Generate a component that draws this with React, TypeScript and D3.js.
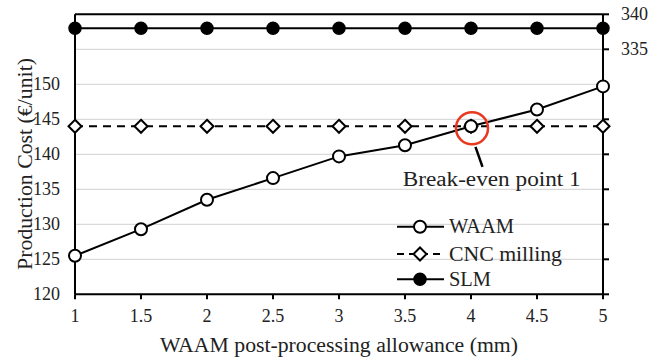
import React from "react";
import * as d3 from "d3";

const allowance = [1, 1.5, 2, 2.5, 3, 3.5, 4, 4.5, 5];
const waamCost = [125.5, 129.3, 133.5, 136.6, 139.7, 141.3, 144.0, 146.4, 149.7];
const cncCost = [144, 144, 144, 144, 144, 144, 144, 144, 144];
const slmCost = [338, 338, 338, 338, 338, 338, 338, 338, 338];
const xTicks = [1, 1.5, 2, 2.5, 3, 3.5, 4, 4.5, 5];
const yTicksLeft = [120, 125, 130, 135, 140, 145, 150];
const yGrid = [125, 130, 135, 140, 145, 150, 155];
const yTickMarks = [120, 125, 130, 135, 140, 145, 150, 155, 160];
const yTicksRight = [335, 340];
const breakEvenX = 4;
const breakEvenY = 144;

const FONT = "Liberation Serif, DejaVu Serif, serif";

export default function App() {
  const W = 666, H = 359;
  const L = 75, R = 603, T = 14.3, B = 294.3;
  const x = d3.scaleLinear().domain([1, 5]).range([L, R]);
  const y = d3.scaleLinear().domain([120, 160]).range([B, T]);
  // broken upper axis segment for SLM (right axis)
  const yR = d3.scaleLinear().domain([335, 340]).range([y(155), y(160)]);

  const lineL = d3.line<[number, number]>().x(d => x(d[0])).y(d => y(d[1]));
  const lineR = d3.line<[number, number]>().x(d => x(d[0])).y(d => yR(d[1]));
  const waamPts: [number, number][] = allowance.map((a, i) => [a, waamCost[i]]);
  const cncPts: [number, number][] = allowance.map((a, i) => [a, cncCost[i]]);
  const slmPts: [number, number][] = allowance.map((a, i) => [a, slmCost[i]]);

  const diamond = (cx: number, cy: number, s: number) =>
    `M${cx},${cy - s}L${cx + s},${cy}L${cx},${cy + s}L${cx - s},${cy}Z`;

  const legX0 = 397, legX1 = 444, legXm = 420, legText = 449;
  const legY = [226.7, 254, 279.3];
  const bx = x(breakEvenX) + 1, by = y(breakEvenY) + 2;
  const ts = { fontFamily: FONT };

  return (
    <svg width={W} height={H} style={{ position: "absolute", left: 0, top: 0, background: "#fff", fontFamily: FONT }}>
      <rect x={0} y={0} width={W} height={H} fill="#fff" />
      {/* grid */}
      {yGrid.map(v => (
        <line key={"g" + v} x1={L} x2={R} y1={y(v)} y2={y(v)} stroke="#d9d9d9" strokeWidth={1.2} />
      ))}
      {/* frame */}
      <line x1={L} x2={R} y1={T} y2={T} stroke="#000" strokeWidth={2} />
      <line x1={L} x2={R} y1={B} y2={B} stroke="#000" strokeWidth={2} />
      <line x1={L} x2={L} y1={T} y2={B} stroke="#000" strokeWidth={2} />
      <line x1={R} x2={R} y1={T} y2={B} stroke="#000" strokeWidth={2} />
      {/* right ticks */}
      {yTickMarks.map(v => (
        <line key={"rt" + v} x1={R} x2={R + 6} y1={y(v)} y2={y(v)} stroke="#000" strokeWidth={2} />
      ))}
      {/* x ticks */}
      {xTicks.map(v => (
        <g key={"xt" + v}>
          <line x1={x(v)} x2={x(v)} y1={B} y2={B + 5} stroke="#000" strokeWidth={2} />
          <text style={ts} x={x(v)} y={322} fontSize={18} textAnchor="middle" fill="#222">{v}</text>
        </g>
      ))}
      {/* left tick labels */}
      {yTicksLeft.map(v => (
        <text style={ts} key={"yl" + v} x={60} y={y(v) + 6} fontSize={18} textAnchor="end" fill="#222">{v}</text>
      ))}
      {/* right tick labels */}
      {yTicksRight.map(v => (
        <text style={ts} key={"yr" + v} x={621} y={yR(v) + 6} fontSize={18} textAnchor="start" fill="#222">{v}</text>
      ))}
      {/* titles */}
      <text style={ts} x={339} y={351.5} fontSize={20} textAnchor="middle" fill="#222"
        textLength={358} lengthAdjust="spacingAndGlyphs">WAAM post-processing allowance (mm)</text>
      <text style={ts} transform={`translate(32,164) rotate(-90)`} fontSize={20} textAnchor="middle" fill="#222"
        textLength={212} lengthAdjust="spacingAndGlyphs">Production Cost (€/unit)</text>

      {/* series lines */}
      <path d={lineR(slmPts) || ""} fill="none" stroke="#000" strokeWidth={2} />
      <path d={lineL(cncPts) || ""} fill="none" stroke="#000" strokeWidth={2} strokeDasharray="8,6" />
      <path d={lineL(waamPts) || ""} fill="none" stroke="#000" strokeWidth={2} />
      {/* markers */}
      {slmPts.map((p, i) => (
        <circle key={"s" + i} cx={x(p[0])} cy={yR(p[1])} r={6} fill="#000" stroke="#000" strokeWidth={1.5} />
      ))}
      {cncPts.map((p, i) => (
        <path key={"c" + i} d={diamond(x(p[0]), y(p[1]), 6.5)} fill="#fff" stroke="#000" strokeWidth={2} />
      ))}
      {waamPts.map((p, i) => (
        <circle key={"w" + i} cx={x(p[0])} cy={y(p[1])} r={6} fill="#fff" stroke="#000" strokeWidth={2} />
      ))}

      {/* break-even annotation */}
      <circle cx={bx} cy={by} r={16} fill="none" stroke="#e8381f" strokeWidth={2.5} />
      <line x1={bx + 3.5} y1={by + 18.5} x2={bx + 10.5} y2={by + 38.5} stroke="#000" strokeWidth={2.5} />
      <text style={ts} x={491.7} y={186} fontSize={20} textAnchor="middle" fill="#222"
        textLength={178} lengthAdjust="spacingAndGlyphs">Break-even point 1</text>

      {/* legend */}
      <line x1={legX0} x2={legX1} y1={legY[0]} y2={legY[0]} stroke="#000" strokeWidth={2} />
      <circle cx={legXm} cy={legY[0]} r={6} fill="#fff" stroke="#000" strokeWidth={2} />
      <text style={ts} x={legText} y={legY[0] + 6.7} fontSize={20} fill="#222" textLength={65} lengthAdjust="spacingAndGlyphs">WAAM</text>
      <line x1={legX0} x2={legX1} y1={legY[1]} y2={legY[1]} stroke="#000" strokeWidth={2} strokeDasharray="7,5" />
      <path d={diamond(legXm, legY[1], 6.5)} fill="#fff" stroke="#000" strokeWidth={2} />
      <text style={ts} x={legText} y={legY[1] + 6.7} fontSize={20} fill="#222" textLength={113} lengthAdjust="spacingAndGlyphs">CNC milling</text>
      <line x1={legX0} x2={legX1} y1={legY[2]} y2={legY[2]} stroke="#000" strokeWidth={2} />
      <circle cx={legXm} cy={legY[2]} r={6} fill="#000" stroke="#000" strokeWidth={1.5} />
      <text style={ts} x={legText} y={legY[2] + 6.7} fontSize={20} fill="#222" textLength={42} lengthAdjust="spacingAndGlyphs">SLM</text>
    </svg>
  );
}
